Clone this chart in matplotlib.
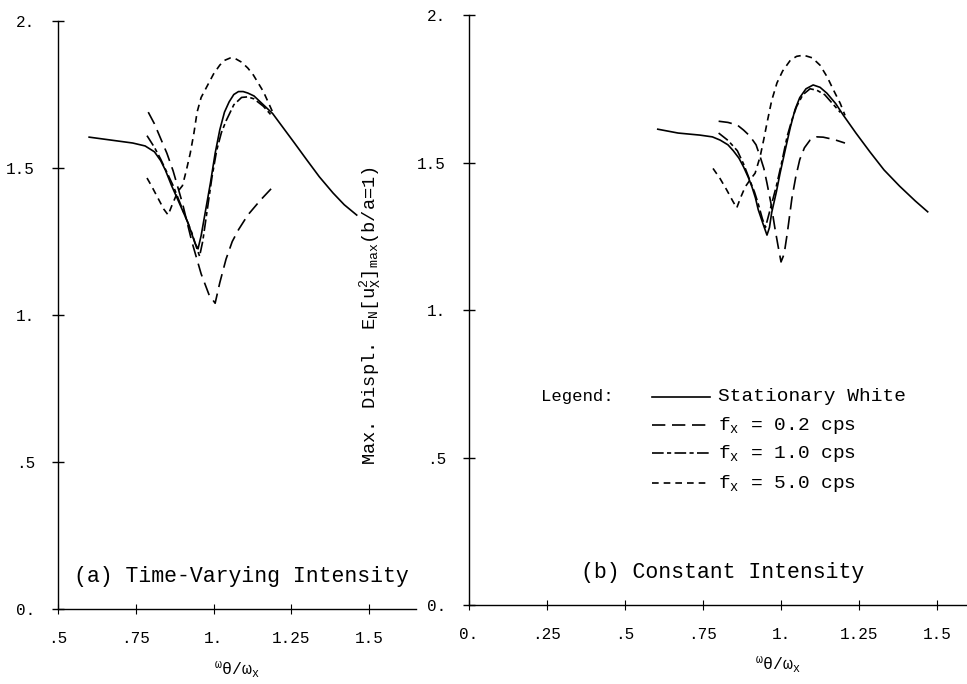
import matplotlib
matplotlib.use("Agg")
from matplotlib import pyplot as plt
from matplotlib.lines import Line2D

plt.rcParams['font.family'] = ['Liberation Mono', 'DejaVu Sans Mono']
plt.rcParams['mathtext.default'] = 'regular'

# (a) time-varying intensity, frequency ratio w_theta/w_x vs normalised max displacement
a_white_x = [0.60, 0.67, 0.74, 0.78, 0.81, 0.83, 0.845, 0.865, 0.886, 0.918, 0.94, 0.95, 0.96, 0.975, 0.99,
             1.005, 1.02, 1.035, 1.05, 1.065, 1.08, 1.095, 1.11, 1.13, 1.15, 1.19, 1.225, 1.26, 1.30, 1.34,
             1.384, 1.42, 1.46]
a_white_y = [1.605, 1.595, 1.585, 1.575, 1.555, 1.525, 1.493, 1.44, 1.39, 1.313, 1.245, 1.225, 1.27, 1.36, 1.45,
             1.55, 1.63, 1.69, 1.725, 1.75, 1.76, 1.76, 1.755, 1.745, 1.725, 1.685, 1.635, 1.585, 1.527, 1.47,
             1.415, 1.375, 1.34]
a_f02_x = [0.79, 0.81, 0.83, 0.85, 0.87, 0.90, 0.93, 0.96, 0.985, 1.005, 1.02, 1.04, 1.06, 1.08, 1.11, 1.15, 1.19]
a_f02_y = [1.69, 1.65, 1.60, 1.55, 1.49, 1.38, 1.25, 1.14, 1.07, 1.04, 1.11, 1.19, 1.25, 1.29, 1.34, 1.39, 1.435]
a_f10_x = [0.786, 0.81, 0.83, 0.87, 0.90, 0.93, 0.945, 0.955, 0.965, 0.98, 0.995, 1.01, 1.025, 1.04, 1.065,
           1.09, 1.11, 1.13, 1.16, 1.185]
a_f10_y = [1.61, 1.57, 1.53, 1.44, 1.36, 1.28, 1.23, 1.20, 1.25, 1.36, 1.47, 1.56, 1.62, 1.66, 1.715,
           1.74, 1.742, 1.735, 1.71, 1.68]
a_f50_x = [0.786, 0.80, 0.82, 0.84, 0.854, 0.865, 0.885, 0.90, 0.912, 0.925, 0.937, 0.947, 0.96, 0.98, 1.0,
           1.02, 1.035, 1.053, 1.07, 1.09, 1.11, 1.128, 1.16, 1.19]
a_f50_y = [1.466, 1.44, 1.40, 1.36, 1.34, 1.37, 1.42, 1.44, 1.49, 1.55, 1.62, 1.69, 1.74, 1.78, 1.82,
           1.85, 1.866, 1.874, 1.872, 1.86, 1.84, 1.816, 1.76, 1.69]

# (b) constant intensity
b_white_x = [0.605, 0.67, 0.74, 0.78, 0.805, 0.83, 0.847, 0.865, 0.88, 0.895, 0.907, 0.918, 0.927, 0.943, 0.955,
             0.963, 0.97, 0.985, 0.997, 1.015, 1.03, 1.045, 1.06, 1.08, 1.103, 1.125, 1.147, 1.175, 1.20, 1.24,
             1.285, 1.33, 1.38, 1.43, 1.47]
b_white_y = [1.613, 1.60, 1.593, 1.587, 1.576, 1.56, 1.54, 1.515, 1.485, 1.45, 1.417, 1.38, 1.34, 1.29, 1.254,
             1.28, 1.33, 1.40, 1.464, 1.55, 1.62, 1.68, 1.72, 1.75, 1.763, 1.755, 1.735, 1.70, 1.66, 1.60,
             1.536, 1.475, 1.42, 1.37, 1.333]
b_f02_x = [0.80, 0.83, 0.86, 0.88, 0.90, 0.92, 0.933, 0.945, 0.955, 0.968, 0.98, 0.99, 1.0, 1.01, 1.02, 1.035,
           1.047, 1.06, 1.075, 1.093, 1.115, 1.135, 1.17, 1.205]
b_f02_y = [1.64, 1.636, 1.627, 1.61, 1.59, 1.56, 1.52, 1.48, 1.43, 1.36, 1.28, 1.22, 1.163, 1.19, 1.26, 1.38,
           1.45, 1.51, 1.55, 1.576, 1.587, 1.586, 1.578, 1.566]
b_f10_x = [0.80, 0.83, 0.86, 0.88, 0.90, 0.915, 0.927, 0.94, 0.95, 0.96, 0.97, 0.985, 1.0, 1.02, 1.035, 1.05,
           1.07, 1.093, 1.115, 1.14, 1.165, 1.19]
b_f10_y = [1.60, 1.575, 1.54, 1.495, 1.44, 1.40, 1.36, 1.31, 1.28, 1.32, 1.36, 1.42, 1.49, 1.59, 1.645, 1.69,
           1.73, 1.75, 1.745, 1.73, 1.70, 1.67]
b_f50_x = [0.782, 0.805, 0.826, 0.845, 0.858, 0.87, 0.885, 0.90, 0.917, 0.933, 0.945, 0.955, 0.97, 0.987, 1.005,
           1.03, 1.05, 1.072, 1.10, 1.125, 1.148, 1.168, 1.19, 1.205]
b_f50_y = [1.48, 1.445, 1.407, 1.37, 1.346, 1.38, 1.417, 1.44, 1.464, 1.52, 1.58, 1.634, 1.71, 1.77, 1.81,
           1.847, 1.86, 1.864, 1.855, 1.83, 1.79, 1.746, 1.70, 1.66]

y_ticks = [0, 0.5, 1.0, 1.5, 2.0]
y_labels = ['0.', '.5', '1.', '1.5', '2.']
a_x_ticks = [0.5, 0.75, 1.0, 1.25, 1.5]
a_x_labels = ['.5', '.75', '1.', '1.25', '1.5']
b_x_ticks = [0, 0.25, 0.5, 0.75, 1.0, 1.25, 1.5]
b_x_labels = ['0.', '.25', '.5', '.75', '1.', '1.25', '1.5']

legend_labels = ['Stationary White', '$f_x$ = 0.2 cps', '$f_x$ = 1.0 cps', '$f_x$ = 5.0 cps']

LW = 1.2
STYLES = [
    dict(linestyle='-'),
    dict(dashes=(8, 4)),
    dict(dashes=(7, 2, 2.5, 2)),
    dict(dashes=(4, 3)),
]


def setup_axis(ax, xlim, xticks, xlabels):
    ax.set_xlim(xlim)
    ax.set_ylim(0, 2)
    for side in ['top', 'right']:
        ax.spines[side].set_visible(False)
    for side in ['left', 'bottom']:
        ax.spines[side].set_linewidth(1.0)
    ax.set_yticks(y_ticks)
    ax.set_yticklabels(y_labels)
    ax.set_xticks(xticks)
    ax.set_xticklabels(xlabels)
    ax.tick_params(axis='y', direction='inout', length=9, width=1.0, pad=12, labelsize=11.5)
    ax.tick_params(axis='x', direction='inout', length=7, width=0.8, pad=12, labelsize=11.5)
    ax.patch.set_visible(False)


def draw_curves(ax, series):
    for (x, y), st in zip(series, STYLES):
        ax.plot(x, y, color='black', linewidth=LW, clip_on=False, **st)


fig = plt.figure(figsize=(9.67, 6.84), dpi=100)

ax_a = fig.add_axes([0.060, 0.1096, 0.370, 0.8597])
setup_axis(ax_a, (0.5, 1.65), a_x_ticks, a_x_labels)
draw_curves(ax_a, [(a_white_x, a_white_y), (a_f02_x, a_f02_y), (a_f10_x, a_f10_y), (a_f50_x, a_f50_y)])
ax_a.set_xlabel(r'$^{\omega}\theta/\omega_{x}$', fontsize=12, labelpad=10)
ax_a.text(0.045, 0.055, '(a) Time-Varying Intensity', transform=ax_a.transAxes,
          fontsize=15.5, ha='left', va='center')

ax_b = fig.add_axes([0.485, 0.1155, 0.515, 0.8625])
setup_axis(ax_b, (0, 1.596), b_x_ticks, b_x_labels)
draw_curves(ax_b, [(b_white_x, b_white_y), (b_f02_x, b_f02_y), (b_f10_x, b_f10_y), (b_f50_x, b_f50_y)])
ax_b.set_xlabel(r'$^{\omega}\theta/\omega_{x}$', fontsize=12, labelpad=8)
ax_b.xaxis.set_label_coords(0.62, -0.085)
ax_b.set_ylabel(r'Max. Displ. $E_N[u_X^2]_{max}$(b/a=1)', fontsize=13.5)
ax_b.yaxis.set_label_coords(-0.172, 0.49)
ax_b.text(0.51, 0.055, '(b) Constant Intensity', transform=ax_b.transAxes,
          fontsize=15.5, ha='center', va='center')

# hand-made legend, as in the original
fig.text(541 / 967, 1 - 397 / 684, 'Legend:', fontsize=12.5, ha='left', va='center')
rows_y = [397, 425, 453, 483]
for label, st, ry in zip(legend_labels, STYLES, rows_y):
    yy = 1 - ry / 684
    fig.add_artist(Line2D([652 / 967, 710 / 967], [yy, yy], color='black',
                          linewidth=LW, transform=fig.transFigure, **st))
    fig.text(718 / 967, yy, label, fontsize=14, ha='left', va='center')

fig.savefig('out.png', dpi=100)
